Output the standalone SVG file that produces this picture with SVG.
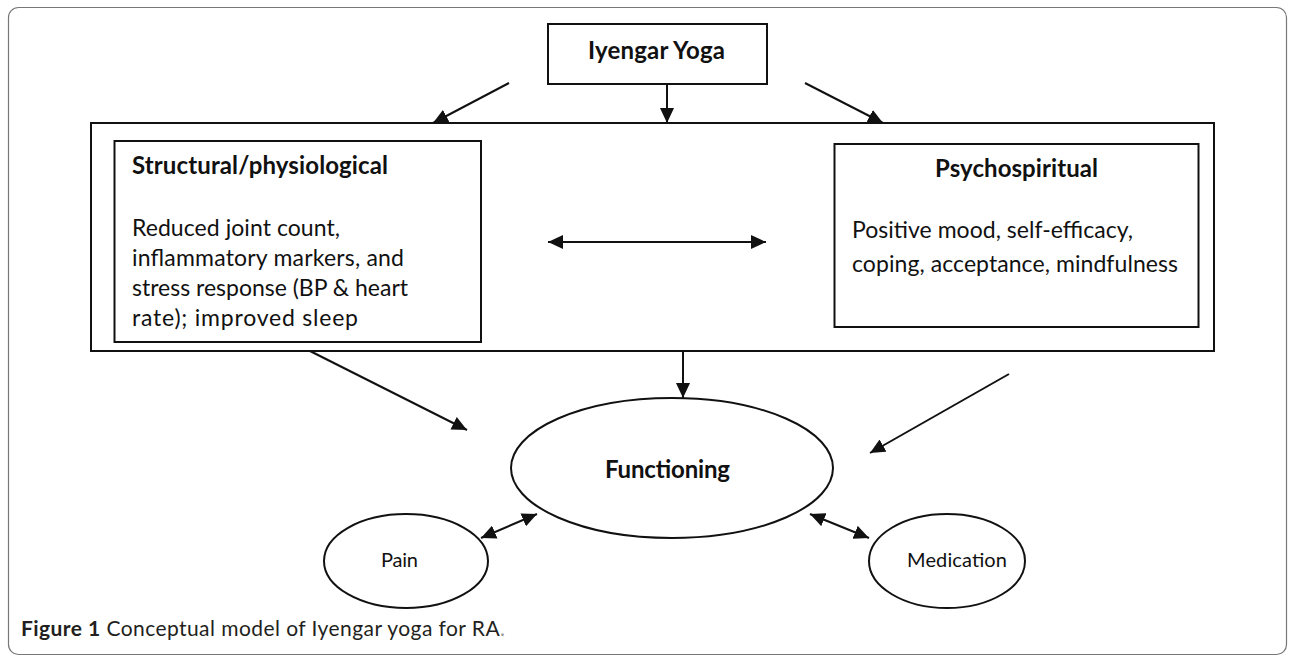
<svg xmlns="http://www.w3.org/2000/svg" width="1290" height="657" viewBox="0 0 1290 657">
<defs>
<style>
.box{fill:#fff;stroke:#111;stroke-width:2}
.ell{fill:#fff;stroke:#111;stroke-width:2}
.frame{fill:none;stroke:#777;stroke-width:1.2}
.con{fill:none;stroke:#111;stroke-width:2}
.t{font-family:Lato,"Liberation Sans",sans-serif;fill:#111;font-size:23px}
.b{font-weight:bold;font-size:24px}
.s{font-size:20px}
.cap{font-family:Lato,"Liberation Sans",sans-serif;fill:#231f20;font-size:21px}
</style>
<marker id="ah" markerUnits="userSpaceOnUse" markerWidth="16" markerHeight="14" refX="15" refY="7" orient="auto-start-reverse">
<path d="M0,0 L15,7 L0,14 z" fill="#111"/>
</marker>
</defs>
<rect width="1290" height="657" fill="#fff"/>
<rect class="frame" x="8.5" y="7.5" width="1278" height="647" rx="10"/>

<g id="iyengar">
<rect class="box" x="548" y="24" width="219" height="60"/>
<text class="t b" x="588" y="59" textLength="137">Iyengar Yoga</text>
</g>

<g id="outer-frame">
<rect class="box" x="91" y="123" width="1123" height="228"/>
</g>

<g id="structural">
<rect class="box" x="114.5" y="141" width="366.5" height="201"/>
<text class="t b" x="132" y="174" textLength="256">Structural/physiological</text>
<text class="t" x="132" y="236" textLength="208">Reduced joint count,</text>
<text class="t" x="132" y="266" textLength="272">inflammatory markers, and</text>
<text class="t" x="132" y="296" textLength="276">stress response (BP &amp; heart</text>
<text class="t" x="132" y="326" textLength="226">rate); improved sleep</text>
</g>

<g id="psychospiritual">
<rect class="box" x="834.5" y="144" width="364" height="183"/>
<text class="t b" x="935" y="177" textLength="163">Psychospiritual</text>
<text class="t" x="852" y="238" textLength="281">Positive mood, self-efficacy,</text>
<text class="t" x="852" y="272" textLength="326">coping, acceptance, mindfulness</text>
</g>

<g id="functioning">
<ellipse class="ell" cx="672" cy="468" rx="161" ry="70"/>
<text class="t b" x="605" y="478" textLength="125">Functioning</text>
</g>

<g id="pain">
<ellipse class="ell" cx="406" cy="561" rx="82" ry="47"/>
<text class="t s" x="381" y="567" textLength="37">Pain</text>
</g>

<g id="medication">
<ellipse class="ell" cx="947" cy="561" rx="78" ry="47"/>
<text class="t s" x="907" y="567" textLength="100">Medication</text>
</g>

<g id="connectors">
<path class="con" d="M509,83 L433,123" marker-end="url(#ah)"/>
<path class="con" d="M667,84 L667,123" marker-end="url(#ah)"/>
<path class="con" d="M805,83 L883,123" marker-end="url(#ah)"/>
<path class="con" d="M548,242 L766,242" marker-start="url(#ah)" marker-end="url(#ah)"/>
<path class="con" d="M310,351 L467,430" marker-end="url(#ah)"/>
<path class="con" d="M683,351 L683,398" marker-end="url(#ah)"/>
<path class="con" d="M1009,374 L870,453" marker-end="url(#ah)"/>
<path class="con" d="M481,538 L537,514" marker-start="url(#ah)" marker-end="url(#ah)"/>
<path class="con" d="M810,514 L869,538" marker-start="url(#ah)" marker-end="url(#ah)"/>
</g>

<text class="cap" x="21" y="636" textLength="484"><tspan font-weight="bold">Figure 1</tspan> Conceptual model of Iyengar yoga for RA<tspan fill="#999">.</tspan></text>
</svg>
